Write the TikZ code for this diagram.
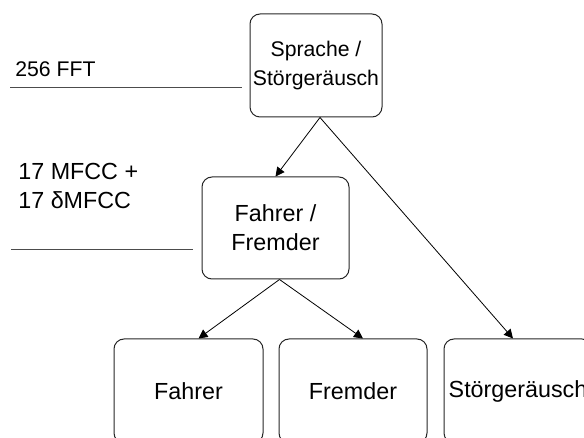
\documentclass[tikz,border=0pt]{standalone}
\usepackage{fontspec}
\setmainfont{Liberation Sans}
\usetikzlibrary{arrows.meta,positioning}
\tikzset{font=\fontsize{11.65}{14.5}\selectfont}
\tikzset{smallfont/.style={font=\fontsize{10.6}{14.5}\selectfont}}
\tikzset{classbox/.style={draw=black!85,line width=0.5pt,rounded corners=5pt,
    align=center,inner sep=0pt}}
\tikzset{featline/.style={draw=black!70,line width=0.5pt}}
\tikzset{edge/.style={line width=0.4pt,-{Triangle[length=4.5pt,width=4.5pt]}}}

\begin{document}
\begin{tikzpicture}[x=0.5pt,y=-0.5pt]
  \useasboundingbox (0,0) rectangle (584,438);
  \clip (0,0) rectangle (584,438);
  % classifier boxes
  \node[classbox,smallfont,minimum width=66pt,minimum height=51.5pt] (sprache) at (316,65.5)
    {Sprache /\\St\"orger\"ausch};
  \node[classbox,minimum width=73.5pt,minimum height=51pt] (fahrfrem) at (275.5,228)
    {Fahrer /\\Fremder};
  \node[classbox,minimum width=74.5pt,minimum height=52pt] (fahrer) at (188.5,391) {Fahrer};
  \node[classbox,minimum width=74pt,minimum height=52pt] (fremder) at (353,391) {Fremder};
  \node[classbox,minimum width=74pt,minimum height=52pt] (stoer) at (518,391) {St\"orger\"ausch};
  % feature labels
  \node[smallfont,anchor=base west,inner sep=0pt] (fft) at (15,77) {256 FFT};
  \coordinate (fftA) at (10,88);
  \coordinate (fftB) at (242,88);
  \draw[featline] (fftA) -- (fftB);
  \node[anchor=base west,inner sep=0pt,align=left] (mfcc) at (18,209)
    {17 MFCC +\\17 δMFCC};
  \coordinate (mfccA) at (11,250);
  \coordinate (mfccB) at (193,250);
  \draw[featline] (mfccA) -- (mfccB);
  % edges
  \draw[edge] ([xshift=2pt]sprache.south) -- (fahrfrem.north);
  \draw[edge] ([xshift=2pt]sprache.south) -- ([xshift=-2.5pt]stoer.north);
  \draw[edge] ([xshift=2pt]fahrfrem.south) -- ([xshift=5pt]fahrer.north);
  \draw[edge] ([xshift=2pt]fahrfrem.south) -- ([xshift=5pt]fremder.north);
\end{tikzpicture}
\end{document}
